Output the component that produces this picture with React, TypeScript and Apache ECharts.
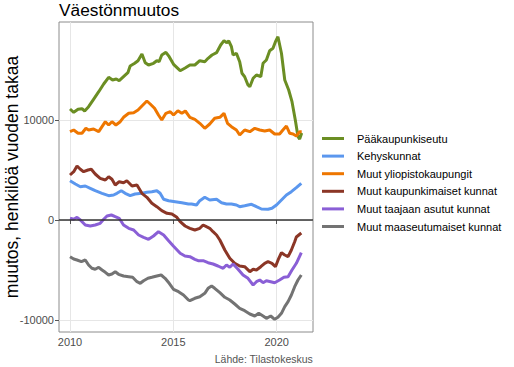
import React, { useEffect, useRef } from "react";
import * as echarts from "echarts";

const seriesNames = [
  "Pääkaupunkiseutu",
  "Kehyskunnat",
  "Muut yliopistokaupungit",
  "Muut kaupunkimaiset kunnat",
  "Muut taajaan asutut kunnat",
  "Muut maaseutumaiset kunnat",
];
const seriesColors = ["#6B8E23", "#5B97EE", "#EE7600", "#8B3626", "#8A5FD6", "#737373"];

const xTicks = [2010, 2015, 2020];
const yTicks = [-10000, 0, 10000];

const paakaupunkiseutuYears = [2010.0, 2010.18, 2010.39, 2010.58, 2010.71, 2010.9, 2011.14, 2011.39, 2011.63, 2011.87, 2012.06, 2012.24, 2012.38, 2012.59, 2012.8, 2012.91, 2013.13, 2013.29, 2013.48, 2013.64, 2013.8, 2014.04, 2014.2, 2014.31, 2014.44, 2014.64, 2014.8, 2015.01, 2015.33, 2015.57, 2015.8, 2016.04, 2016.28, 2016.52, 2016.68, 2016.87, 2017.09, 2017.29, 2017.45, 2017.57, 2017.68, 2017.81, 2017.89, 2018.05, 2018.21, 2018.32, 2018.45, 2018.61, 2018.7, 2018.86, 2019.02, 2019.23, 2019.34, 2019.5, 2019.66, 2019.82, 2019.94, 2020.06, 2020.23, 2020.39, 2020.58, 2020.74, 2020.9, 2021.03, 2021.11, 2021.21];
const paakaupunkiseutuValues = [11100, 10770, 11070, 11130, 10900, 11330, 12070, 12830, 13600, 14270, 14000, 14100, 13930, 14330, 14730, 15400, 15670, 15930, 16600, 15730, 15500, 15670, 15930, 15830, 16500, 16770, 16330, 15570, 14930, 15200, 15500, 15500, 15930, 15830, 16170, 16500, 16730, 17500, 17930, 17730, 17900, 17330, 16500, 16670, 15830, 14670, 14330, 13500, 13330, 14170, 14500, 14330, 15670, 16000, 16930, 17170, 17830, 18330, 16670, 14000, 13000, 11830, 10000, 8330, 8100, 8700];

const kehyskunnatYears = [2010.0, 2010.26, 2010.5, 2010.74, 2010.98, 2011.22, 2011.55, 2011.87, 2012.11, 2012.27, 2012.48, 2012.67, 2012.91, 2013.15, 2013.48, 2013.72, 2013.96, 2014.2, 2014.36, 2014.53, 2014.77, 2015.09, 2015.41, 2015.73, 2015.88, 2016.12, 2016.28, 2016.52, 2016.76, 2017.09, 2017.33, 2017.57, 2017.81, 2018.05, 2018.21, 2018.45, 2018.78, 2019.02, 2019.26, 2019.58, 2019.77, 2019.99, 2020.23, 2020.47, 2020.71, 2020.95, 2021.19];
const kehyskunnatValues = [3930, 3600, 3330, 3400, 3170, 2930, 2670, 2430, 2500, 2670, 2930, 2670, 2430, 2600, 2670, 2770, 2830, 2930, 2670, 2070, 1930, 1830, 1730, 1600, 1600, 1500, 1930, 2270, 2000, 2070, 1730, 1600, 1600, 1500, 1330, 1430, 1570, 1330, 1100, 1070, 1170, 1500, 2000, 2500, 2830, 3230, 3670];

const yliopistoYears = [2010.0, 2010.18, 2010.39, 2010.58, 2010.77, 2010.9, 2011.14, 2011.39, 2011.55, 2011.71, 2011.87, 2012.03, 2012.22, 2012.43, 2012.59, 2012.84, 2013.08, 2013.29, 2013.48, 2013.72, 2013.88, 2014.09, 2014.28, 2014.44, 2014.64, 2014.85, 2015.01, 2015.22, 2015.41, 2015.58, 2015.8, 2016.04, 2016.28, 2016.52, 2016.76, 2017.0, 2017.25, 2017.45, 2017.62, 2017.81, 2018.05, 2018.21, 2018.45, 2018.7, 2018.94, 2019.18, 2019.42, 2019.66, 2019.9, 2020.14, 2020.3, 2020.47, 2020.63, 2020.79, 2020.95, 2021.11, 2021.21];
const yliopistoValues = [8830, 9000, 8670, 8670, 9170, 9000, 9100, 8830, 9330, 9830, 9500, 9830, 9500, 9830, 10270, 10670, 10730, 11000, 11400, 11900, 11600, 11170, 10500, 10000, 10670, 10830, 10500, 10930, 10670, 10900, 10270, 10070, 9670, 9170, 9600, 10170, 10270, 10670, 9670, 9330, 9000, 8500, 9000, 8830, 9170, 9000, 8900, 9000, 8600, 8600, 9000, 9400, 8670, 8600, 8400, 8830, 8830];

const kaupunkimaisetYears = [2010.0, 2010.18, 2010.34, 2010.5, 2010.66, 2010.87, 2011.03, 2011.22, 2011.46, 2011.71, 2011.87, 2012.03, 2012.19, 2012.38, 2012.59, 2012.75, 2013.0, 2013.24, 2013.48, 2013.72, 2013.96, 2014.2, 2014.44, 2014.69, 2014.93, 2015.17, 2015.33, 2015.57, 2015.8, 2016.04, 2016.28, 2016.44, 2016.6, 2016.76, 2016.92, 2017.09, 2017.25, 2017.49, 2017.73, 2017.97, 2018.21, 2018.45, 2018.7, 2018.86, 2019.02, 2019.23, 2019.42, 2019.58, 2019.77, 2019.94, 2020.1, 2020.23, 2020.39, 2020.55, 2020.71, 2020.87, 2020.95, 2021.19];
const kaupunkimaisetValues = [4500, 4830, 5400, 5070, 4830, 5000, 5070, 4600, 4170, 4000, 4330, 4070, 3500, 3830, 3730, 3930, 3400, 3500, 2670, 2270, 1670, 1330, 930, 670, 600, 270, -170, -600, -830, -1000, -830, -500, -670, -830, -1170, -1500, -2000, -3000, -3830, -4330, -4600, -4670, -5170, -4930, -5000, -4670, -4330, -4170, -4330, -4670, -3830, -3270, -3500, -3670, -3000, -2170, -1700, -1300];

const taajaanYears = [2010.0, 2010.18, 2010.34, 2010.5, 2010.74, 2010.98, 2011.22, 2011.46, 2011.63, 2011.79, 2012.0, 2012.19, 2012.38, 2012.59, 2012.84, 2013.08, 2013.32, 2013.56, 2013.8, 2014.04, 2014.28, 2014.53, 2014.77, 2015.01, 2015.33, 2015.56, 2015.8, 2016.04, 2016.2, 2016.44, 2016.68, 2016.92, 2017.16, 2017.41, 2017.57, 2017.73, 2017.89, 2018.13, 2018.37, 2018.61, 2018.86, 2019.02, 2019.18, 2019.34, 2019.5, 2019.71, 2019.9, 2020.14, 2020.35, 2020.55, 2020.74, 2020.95, 2021.19];
const taajaanValues = [170, 70, 270, 0, -500, -600, -500, -330, 70, 400, 500, 330, 170, -500, -830, -1000, -1500, -1730, -1930, -1600, -1170, -1500, -2070, -2630, -3330, -3600, -3670, -3930, -4070, -4070, -4270, -4400, -4600, -4830, -4500, -4730, -4400, -4930, -5500, -5830, -6500, -6170, -6000, -6270, -6070, -6170, -6270, -6000, -5730, -5670, -5000, -4330, -3270];

const maaseutuYears = [2010.0, 2010.18, 2010.34, 2010.55, 2010.74, 2010.9, 2011.06, 2011.22, 2011.39, 2011.55, 2011.71, 2011.87, 2012.03, 2012.19, 2012.35, 2012.59, 2012.84, 2013.03, 2013.24, 2013.4, 2013.56, 2013.77, 2013.96, 2014.2, 2014.41, 2014.6, 2014.8, 2015.01, 2015.25, 2015.49, 2015.73, 2015.8, 2016.04, 2016.28, 2016.52, 2016.68, 2016.85, 2017.0, 2017.25, 2017.49, 2017.73, 2017.97, 2018.21, 2018.45, 2018.7, 2018.94, 2019.13, 2019.34, 2019.5, 2019.71, 2019.9, 2020.06, 2020.23, 2020.39, 2020.55, 2020.71, 2020.87, 2021.03, 2021.19];
const maaseutuValues = [-3670, -3900, -4000, -4170, -4000, -4500, -4830, -4930, -4730, -5000, -5230, -5500, -5400, -5170, -5430, -5600, -5670, -5730, -6170, -6330, -6070, -5830, -5730, -5600, -5500, -5830, -6330, -6930, -7170, -7500, -8000, -8070, -7830, -7670, -7330, -6830, -6600, -6830, -7270, -7730, -8000, -8400, -8830, -9070, -9400, -9600, -9330, -9600, -9830, -9600, -9930, -9730, -9330, -8670, -8170, -7500, -6670, -6000, -5500];

const allYears = [paakaupunkiseutuYears, kehyskunnatYears, yliopistoYears, kaupunkimaisetYears, taajaanYears, maaseutuYears];
const allValues = [paakaupunkiseutuValues, kehyskunnatValues, yliopistoValues, kaupunkimaisetValues, taajaanValues, maaseutuValues];

const FONT = "'Liberation Sans', Arial, sans-serif";

export default function App() {
  const ref = useRef<HTMLDivElement>(null);
  useEffect(() => {
    if (!ref.current) return;
    const chart = echarts.init(ref.current, null, { renderer: "svg" });
    const series: any[] = seriesNames.map((name, i) => ({
      name,
      type: "line",
      data: allYears[i].map((t, j) => [t, allValues[i][j]]),
      symbol: "none",
      showSymbol: false,
      lineStyle: { color: seriesColors[i], width: 3 },
      itemStyle: { color: seriesColors[i] },
      z: 3,
    }));
    series[0].markLine = {
      silent: true,
      symbol: "none",
      label: { show: false },
      lineStyle: { color: "#333333", width: 1.5, type: "solid" },
      data: [{ yAxis: 0 }],
      animation: false,
    };
    chart.setOption({
      animation: false,
      textStyle: { fontFamily: FONT },
      grid: { left: 59, right: 201, top: 22, bottom: 35, show: true, borderColor: "#8c8c8c", borderWidth: 1, containLabel: false, outerBoundsMode: "none" },
      xAxis: {
        type: "value",
        min: 2009.468,
        max: 2021.756,
        axisLine: { show: false },
        axisTick: { show: true, customValues: xTicks, length: 4, lineStyle: { color: "#555" } },
        axisLabel: { customValues: xTicks, formatter: (v: number) => String(v), color: "#4d4d4d", fontSize: 11, margin: 4, fontFamily: FONT },
        splitLine: { show: true, lineStyle: { color: "#e6e6e6", width: 1 } },
      },
      yAxis: {
        type: "value",
        min: -11200,
        max: 19800,
        axisLine: { show: false },
        axisTick: { show: true, customValues: yTicks, length: 4, lineStyle: { color: "#555" } },
        axisLabel: { customValues: yTicks, formatter: (v: number) => String(v), color: "#4d4d4d", fontSize: 11, margin: 5, fontFamily: FONT },
        splitLine: { show: true, lineStyle: { color: "#e6e6e6", width: 1 } },
      },
      legend: {
        orient: "vertical",
        left: 317,
        top: 128,
        itemWidth: 22,
        itemHeight: 14,
        itemGap: 6.6,
        icon: "path://M0,6 L22,6 L22,9 L0,9 Z",
        textStyle: { fontSize: 11, color: "#000", fontFamily: FONT, padding: [0, 0, 0, 8] },
        data: seriesNames,
      },
      graphic: [
        { type: "text", left: 59, top: 1, style: { text: "Väestönmuutos", font: `17.3px ${FONT}`, fill: "#000" } },
        { type: "text", x: 12, y: 177, rotation: Math.PI / 2, style: { text: "muutos, henkilöä vuoden takaa", font: `17.5px ${FONT}`, fill: "#000", textAlign: "center", textVerticalAlign: "middle" } },
        { type: "text", right: 201, top: 353, style: { text: "Lähde: Tilastokeskus", font: `10.5px ${FONT}`, fill: "#555" } },
      ],
      series,
    });
    return () => chart.dispose();
  }, []);
  return <div ref={ref} style={{ width: 514, height: 367, position: "absolute", left: 0, top: 0 }} />;
}
